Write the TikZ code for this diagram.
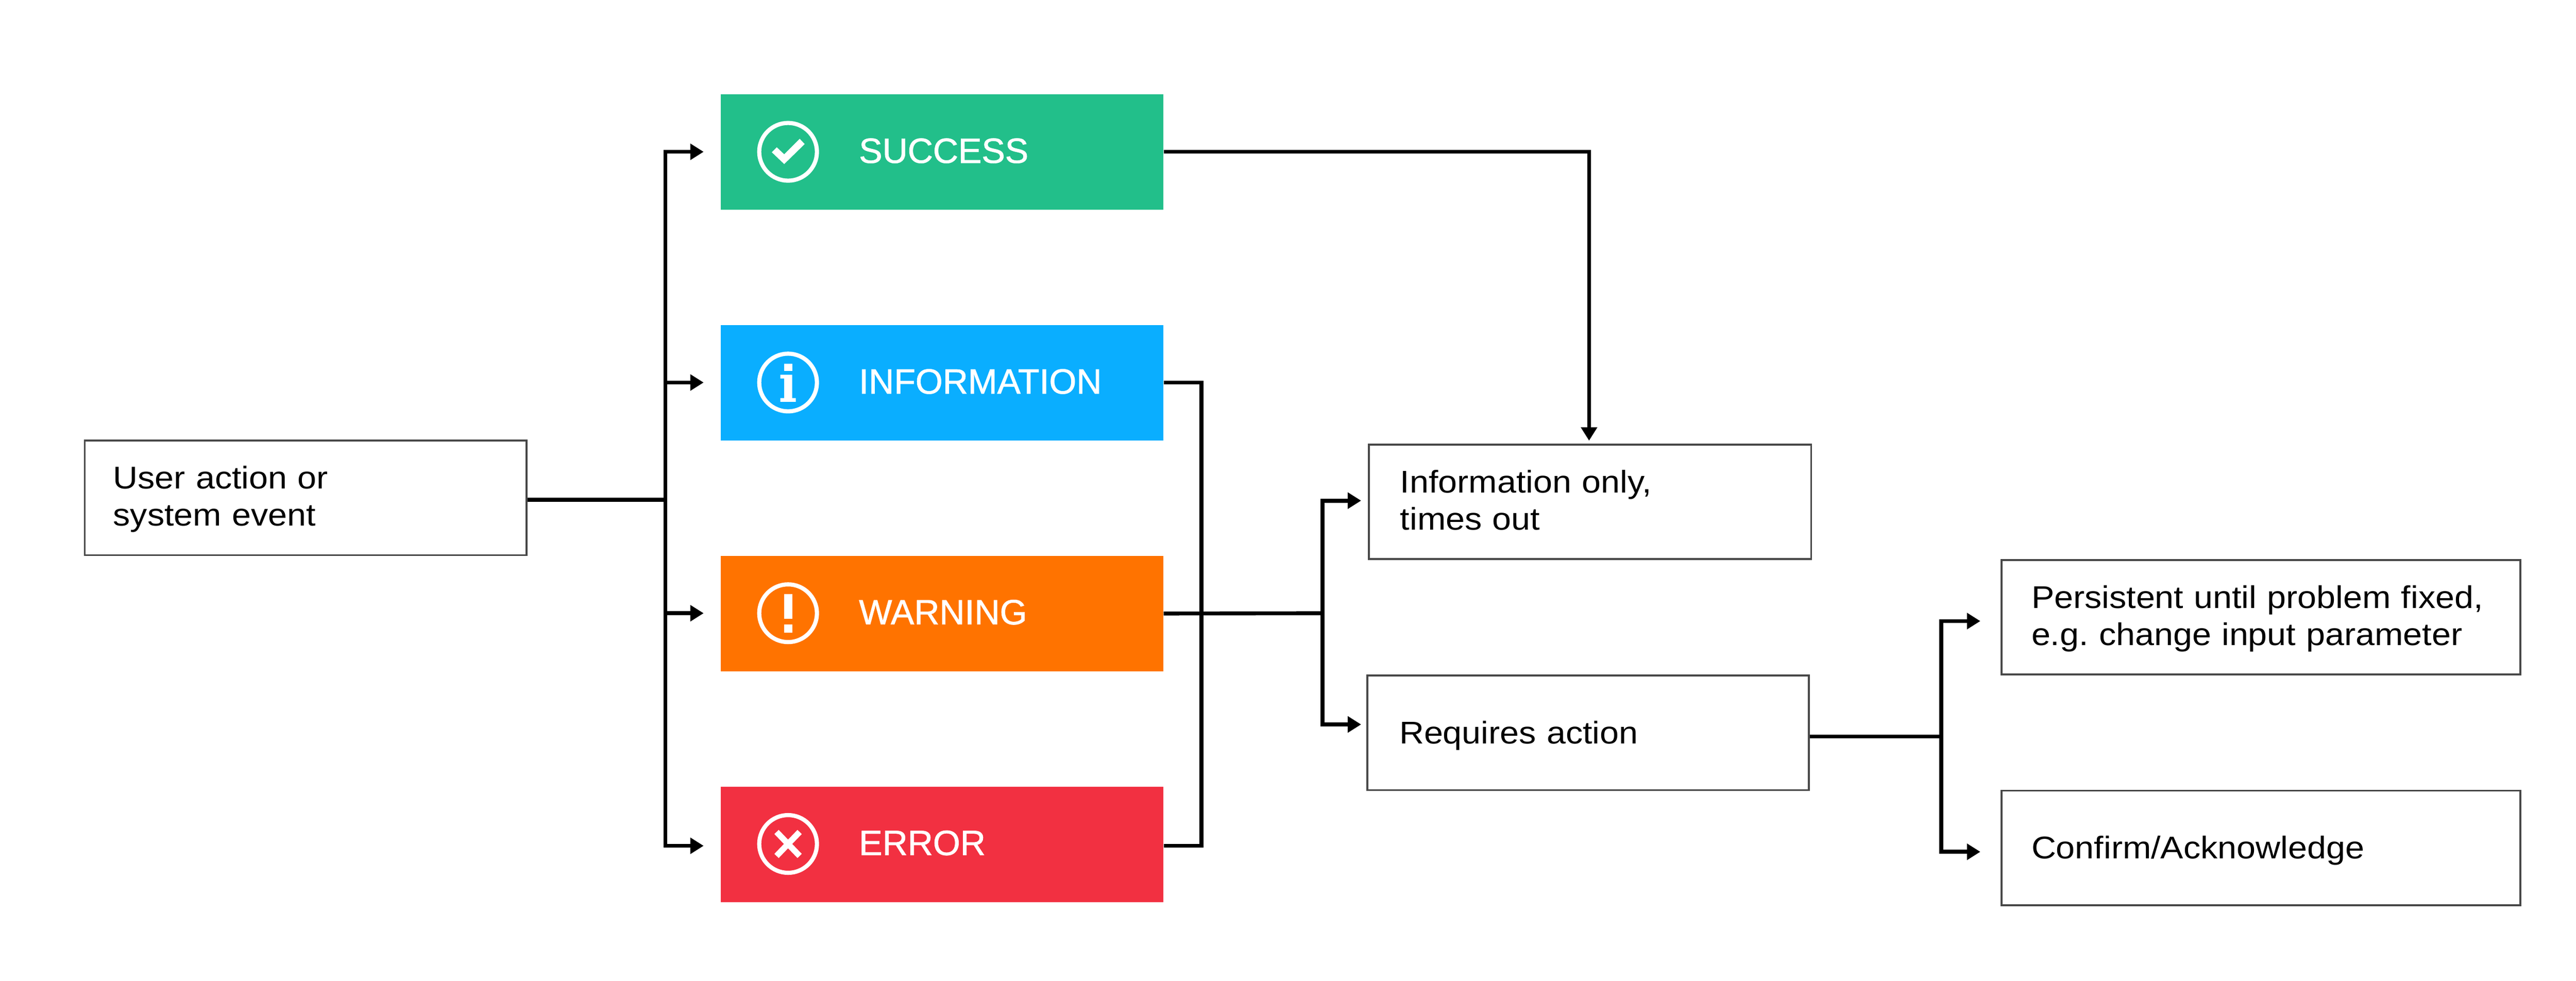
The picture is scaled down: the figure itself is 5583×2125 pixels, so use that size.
\documentclass[tikz,border=0pt]{standalone}
\usepackage{xcolor}
\usepackage{fontspec}
\setmainfont{Liberation Sans}
\newfontfamily\widefont[FakeStretch=1.09]{Liberation Sans}
\newfontfamily\alertfont[FakeBold=1.2]{Liberation Sans}
\usetikzlibrary{calc,positioning,arrows.meta}
\definecolor{okgreen}{HTML}{22BF8A}
\definecolor{infoblue}{HTML}{0AAEFF}
\definecolor{warnorange}{HTML}{FF7300}
\definecolor{errred}{HTML}{F23041}
\definecolor{edgegray}{HTML}{484848}

\begin{document}
\begin{tikzpicture}[x=0.01cm, y=-0.01cm]
\tikzstyle{alert}=[inner sep = 0 pt, minimum width = 9.59cm, minimum height = 2.5cm, node distance=5cm]
\tikzstyle{alertlbl}=[inner sep = 0 pt, anchor = base west, text = white, font = \alertfont\fontsize{21.6pt}{24pt}\selectfont]
\tikzstyle{ring}=[draw = white, circle, line width = 0.09cm, minimum size = 1.25cm, inner sep = 0 pt]
\tikzstyle{msg}=[draw = edgegray, line width = 0.04cm, inner sep = 0 pt, minimum height = 2.48cm, align = left, font = \widefont\fontsize{19.35pt}{22.76pt}\selectfont]
\tikzstyle{oneline}=[text height = 0.52cm, text depth = 0.05cm]
\tikzstyle{twolines}=[text height = 0.52cm, text depth = 0.91cm]
\tikzstyle{wire}=[line width = 0.085cm]
\tikzstyle{arr}=[-{Triangle[length=0.29cm, width=0.34cm]}]

\useasboundingbox (0,0) rectangle (5583,2125);

\node[alert, fill = okgreen] (success) at (2041.5,329) {};
\node[alert, fill = infoblue, below of = success] (information) {};
\node[alert, fill = warnorange, below of = information] (warning) {};
\node[alert, fill = errred, below of = warning] (error) {};

\node[alertlbl] (successlbl) at (1861,353) {SUCCESS};
\node[alertlbl] (informationlbl) at (1861,853) {INFORMATION};
\node[alertlbl] (warninglbl) at (1861,1353) {WARNING};
\node[alertlbl] (errorlbl) at (1861,1853) {ERROR};

\node[ring] (successicon) at (1708,329) {};
\node[ring] (informationicon) at (1708,829) {};
\node[ring] (warningicon) at (1708,1329) {};
\node[ring] (erroricon) at (1708,1829) {};

% glyphs in the rings
\fill[white, shift = {(successicon)}] (-24.5,-9.8) -- (-35.2,1) -- (-8.4,26.6) -- (36,-16.8) -- (25.2,-28.2) -- (-8.4,5.4) -- cycle;
\fill[white, shift = {(informationicon)}] (-8.4,-41) rectangle (9,-25);
\fill[white, shift = {(informationicon)}] (-16.8,-16.8) -- (9,-16.8) -- (9,33.6) -- (16.8,33.6) -- (16.8,41.7) -- (-16.8,41.7) -- (-16.8,33.6) -- (-8.4,33.6) -- (-8.4,-8.7) -- (-16.8,-8.7) -- cycle;
\fill[white, shift = {(warningicon)}] (-8.4,-42) rectangle (9,12);
\fill[white, shift = {(warningicon)}] (-8.4,24) rectangle (9,42);
\draw[white, line width = 0.13cm, shift = {(erroricon)}] (-25,-26) -- (25,26) (25,-26) -- (-25,26);

\node[msg, twolines, minimum width = 9.57cm, text width = 8.34cm] (eventbox) at (662.5,1079) {User action or\\system event};
\node[msg, twolines, minimum width = 9.58cm, text width = 8.22cm] (onlybox) at (3446,1087.5) {Information only,\\times out};
\node[msg, oneline, minimum width = 9.56cm, text width = 8.18cm] (actionbox) at (3442,1588) {Requires action};
\node[msg, twolines, minimum width = 11.24cm, text width = 9.94cm] (fixbox) at (4900,1337.5) {Persistent until problem fixed,\\e.g.\ change input parameter};
\node[msg, oneline, minimum width = 11.24cm, text width = 9.94cm] (ackbox) at (4900,1837.5) {Confirm/Acknowledge};

\coordinate (fanout) at (1442,1083);
\coordinate (successin) at (1525,329);
\coordinate (informationin) at (1525,829);
\coordinate (warningin) at (1525,1329);
\coordinate (errorin) at (1525,1833);
\coordinate (bus) at (2604,1329);
\coordinate (joint) at (2866,1329);
\coordinate (onlyin) at (2950,1085);
\coordinate (actionin) at (2950,1570);
\coordinate (onlytop) at (3444,955);
\coordinate (split) at (4207,1596);
\coordinate (fixin) at (4292,1346);
\coordinate (ackin) at (4292,1846);

\draw[wire] (eventbox.east |- fanout) -- (fanout);
\draw[wire, arr] (fanout) |- (successin);
\draw[wire, arr] (fanout) |- (informationin);
\draw[wire, arr] (fanout) |- (warningin);
\draw[wire, arr] (fanout) |- (errorin);
\draw[wire, arr] (success.east) -| (onlytop);
\draw[wire] (information.east) -| (bus) |- (error.east |- errorin);
\draw[wire] (warning.east) -- (joint);
\draw[wire, arr] (joint) |- (onlyin);
\draw[wire, arr] (joint) |- (actionin);
\draw[wire] (actionbox.east |- split) -- (split);
\draw[wire, arr] (split) |- (fixin);
\draw[wire, arr] (split) |- (ackin);
\end{tikzpicture}
\end{document}
